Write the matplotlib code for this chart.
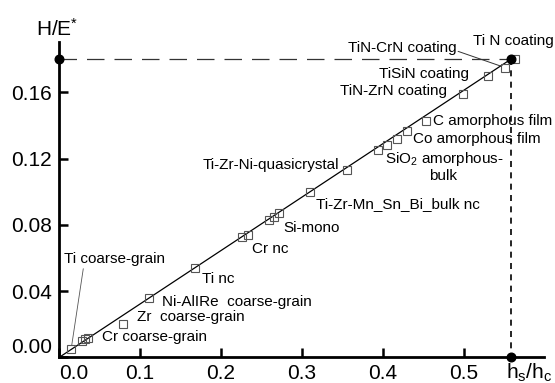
import matplotlib
matplotlib.use("Agg")
import matplotlib.pyplot as plt

plt.rcParams['font.family'] = ['Liberation Sans', 'DejaVu Sans']
plt.rcParams['mathtext.fontset'] = 'custom'
plt.rcParams['mathtext.rm'] = 'Liberation Sans'
plt.rcParams['mathtext.it'] = 'Liberation Sans'

# ---- data ----
hs_hc = [0.015, 0.029, 0.032, 0.036, 0.079, 0.111, 0.168, 0.226, 0.233,
         0.260, 0.265, 0.272, 0.310, 0.356, 0.394, 0.405, 0.418, 0.430,
         0.453, 0.499, 0.530, 0.551, 0.563]
h_over_e = [0.005, 0.010, 0.011, 0.012, 0.020, 0.036, 0.054, 0.073, 0.074,
            0.083, 0.085, 0.087, 0.100, 0.113, 0.125, 0.128, 0.132, 0.137,
            0.143, 0.159, 0.170, 0.175, 0.180]
fit_x = [0.0, 0.558]
fit_y = [0.0, 0.180]
ref_x = 0.558
ref_y = 0.180
x_ticks = [0.0, 0.1, 0.2, 0.3, 0.4, 0.5]
x_tick_labels = ["0.0", "0.1", "0.2", "0.3", "0.4", "0.5"]
y_ticks = [0.00, 0.04, 0.08, 0.12, 0.16]
y_tick_labels = ["0.00", "0.04", "0.08", "0.12", "0.16"]

labels = ["Ti N coating", "TiN-CrN coating", "TiSiN coating", "TiN-ZrN coating",
          "C amorphous film", "Co amorphous film", "Ti-Zr-Ni-quasicrystal",
          "Ti-Zr-Mn_Sn_Bi_bulk nc", "Si-mono", "Cr nc", "Ti nc",
          "Ni-AlIRe  coarse-grain", "Zr  coarse-grain", "Cr coarse-grain",
          "Ti coarse-grain"]
# label anchor positions (left edge, vertical centre) in data units
label_pos = [(0.511, 0.1912), (0.357, 0.1867), (0.3954, 0.1712), (0.347, 0.1606),
             (0.462, 0.1426), (0.4374, 0.1320), (0.177, 0.1162),
             (0.318, 0.0926), (0.277, 0.0781), (0.239, 0.0656), (0.177, 0.0472),
             (0.1275, 0.0337), (0.0967, 0.0247), (0.0527, 0.0122),
             (0.0065, 0.0596)]

fig = plt.figure(figsize=(5.55, 3.83), dpi=100)
ax = fig.add_axes([0.1063, 0.0666, 0.980 - 0.1063, 0.891 - 0.0666])
ax.set_xlim(0, 0.599)
ax.set_ylim(0, 0.1906)

for s in ['top', 'right']:
    ax.spines[s].set_visible(False)
for s in ['left', 'bottom']:
    ax.spines[s].set_linewidth(2.0)

ax.set_xticks(x_ticks)
ax.set_xticklabels(x_tick_labels)
ax.set_yticks(y_ticks)
ax.set_yticklabels(y_tick_labels)
ax.tick_params(direction='in', length=6.5, width=1.8, labelsize=15, pad=5)
ax.get_xticklabels()[0].set_horizontalalignment('left')
ax.get_yticklabels()[0].set_verticalalignment('bottom')

# fit line
ax.plot(fit_x, fit_y, color='black', lw=0.9, zorder=2)
# data squares
ax.plot(hs_hc, h_over_e, linestyle='none', marker='s', markersize=5.6,
        markerfacecolor='none', markeredgecolor='#555555', markeredgewidth=0.8, zorder=3)

# reference dashed lines
ax.plot([0, ref_x], [ref_y, ref_y], color='#333333', lw=0.9,
        linestyle=(0, (14, 8)), zorder=1, clip_on=False)
ax.plot([ref_x, ref_x], [ref_y, 0], color='black', lw=1.2,
        linestyle=(0, (3.6, 3.2)), zorder=1, clip_on=False)
ax.plot([0, ref_x, ref_x], [ref_y, 0, ref_y], linestyle='none', marker='o',
        markersize=6.2, color='black', zorder=5, clip_on=False)

# labels
for name, (lx, ly) in zip(labels, label_pos):
    ax.text(lx, ly, name, fontsize=11, ha='left', va='center', clip_on=False)

ax.text(0.4765, 0.1200, "SiO$_2$ amorphous-", fontsize=11, ha='center', va='center')
ax.text(0.4744, 0.1096, "bulk", fontsize=11, ha='center', va='center')

# leader lines
ax.annotate("", xy=(hs_hc[21], h_over_e[21]), xytext=(0.493, 0.1848),
            arrowprops=dict(arrowstyle='-', lw=0.7, color='#333333', shrinkA=0, shrinkB=3))
ax.annotate("", xy=(hs_hc[0], h_over_e[0]), xytext=(0.030, 0.0536),
            arrowprops=dict(arrowstyle='-', lw=0.6, color='#555555', shrinkA=0, shrinkB=3))

# axis titles
fig.text(57 / 555, 1 - 28.5 / 383, "H/E$^{*}$", fontsize=15, ha='center', va='center')
fig.text(529 / 555, 1 - 372.5 / 383, "h$_{\\rm s}$/h$_{\\rm c}$", fontsize=15,
         ha='center', va='center')

fig.savefig("out.png", dpi=100)
